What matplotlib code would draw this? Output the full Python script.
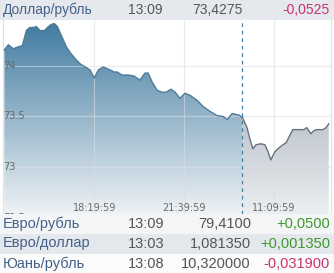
import numpy as np
import matplotlib.pyplot as plt
from matplotlib.colors import LinearSegmentedColormap
from matplotlib.patches import Rectangle
from matplotlib import transforms

# axis position in minutes, counted from 15:00 of day one (night gap cut out)
day1_t = [0, 9, 20, 31, 40, 49, 56, 64, 71, 80, 89, 98, 104, 111, 118, 124,
          131, 138, 147, 158, 169, 180, 191, 200, 209, 220, 236, 244, 251,
          262, 276, 289, 302, 313, 320, 329, 340, 351, 360, 371, 380, 391,
          402, 413, 429, 442, 458, 473, 487, 496, 507, 516, 524, 530]
day1_v = [74.16, 74.21, 74.17, 74.19, 74.20, 74.35, 74.38, 74.38, 74.39,
          74.35, 74.35, 74.39, 74.41, 74.42, 74.39, 74.33, 74.26, 74.19,
          74.13, 74.07, 74.02, 73.99, 73.96, 73.88, 73.96, 73.99, 73.96,
          73.94, 73.94, 73.91, 73.91, 73.90, 73.86, 73.93, 73.93, 73.84,
          73.76, 73.74, 73.74, 73.77, 73.74, 73.68, 73.73, 73.71, 73.66,
          73.60, 73.55, 73.51, 73.50, 73.47, 73.53, 73.52, 73.51, 73.49]
day2_t = [530, 540, 547, 553, 560, 571, 580, 587, 593, 602, 611, 620, 627,
          636, 642, 651, 658, 667, 673, 682, 689, 696, 702, 709, 716, 722]
day2_v = [73.49, 73.39, 73.27, 73.18, 73.22, 73.23, 73.22, 73.15, 73.07,
          73.15, 73.19, 73.22, 73.24, 73.32, 73.37, 73.37, 73.37, 73.37,
          73.39, 73.33, 73.36, 73.37, 73.37, 73.37, 73.39, 73.4275]
day_split = 530

x_ticks = [200, 400, 600]
x_labels = ["18:19:59", "21:39:59", "11:09:59"]
y_ticks = [74, 73.5, 73, 72.5]
y_labels = ["74", "73.5", "73", "72.5"]

header = ["Доллар/рубль", "13:09", "73,4275", "-0,0525"]
rows = [
    ["Евро/рубль", "13:09", "79,4100", "+0,0500"],
    ["Евро/доллар", "13:03", "1,081350", "+0,001350"],
    ["Юань/рубль", "13:08", "10,320000", "-0,031900"],
]

W, H = 334, 273
NAME_C = "#44618a"
TEXT_C = "#555555"
NEG_C = "#c8336e"
POS_C = "#3d9a2c"


def px(x):
    return x / W


def py(y):
    return 1 - y / H


def gradient_area(ax, t, v, c_top, c_bot, line_c, xlim, ylim):
    poly = ax.fill_between(t, v, ylim[0], color="none", lw=0)
    cmap = LinearSegmentedColormap.from_list("g", [c_bot, c_top])
    grad = np.linspace(0, 1, 256).reshape(-1, 1)
    im = ax.imshow(grad, extent=[xlim[0], xlim[1], ylim[0], ylim[1]],
                   origin="lower", aspect="auto", cmap=cmap, zorder=1)
    im.set_clip_path(poly.get_paths()[0], transform=ax.transData)
    ax.plot(t, v, color=line_c, lw=1.0, zorder=3)


fig = plt.figure(figsize=(W / 100, H / 100), dpi=100)
ax = fig.add_axes([px(3), py(214), px(328), 194 / H])
xlim = (-3, 727)
ylim = (72.535, 74.455)

gradient_area(ax, day1_t, day1_v, "#3f7aa0", "#eef2f5", "#4f7b97", xlim, ylim)
gradient_area(ax, day2_t, day2_v, "#8f9ca8", "#eceef1", "#66737e", xlim, ylim)
ax.set_xlim(*xlim)
ax.set_ylim(*ylim)

for yv in y_ticks:
    ax.axhline(yv, color="#d9dfe4", lw=0.8, alpha=0.6, zorder=2)
for xv in x_ticks:
    ax.axvline(xv, color="#d9dfe4", lw=0.8, alpha=0.6, zorder=2)
ax.axvline(day_split, color="#4a7fa5", lw=0.9, ls=(0, (3, 3)), zorder=4)

ax.set_xticks([])
ax.set_yticks([])
for s in ["top", "bottom"]:
    ax.spines[s].set_visible(False)
for s in ["left", "right"]:
    ax.spines[s].set_color("#e2e2e2")
    ax.spines[s].set_linewidth(0.8)

ytr = transforms.blended_transform_factory(ax.transAxes, ax.transData)
for yv, lab in zip(y_ticks, y_labels):
    ax.text(0.0, yv, lab, transform=ytr, ha="left", va="center",
            fontsize=7, color="#6a6a6a", family="DejaVu Sans", zorder=5,
            clip_on=True)
xtr = transforms.blended_transform_factory(ax.transData, ax.transAxes)
for xv, lab in zip(x_ticks, x_labels):
    ax.text(xv, 6 / 194, lab, transform=xtr, ha="center", va="center",
            fontsize=7, color="#6a6a6a", family="DejaVu Sans", zorder=5)

# header bar and the table underneath
fig.add_artist(Rectangle((0, py(20)), 1, 20 / H, transform=fig.transFigure,
                         facecolor="#e5e9ee", edgecolor="none", zorder=2))
row_bg = ["#f3f5f7", "#e4e8ec", "#fbfbfc"]
row_top = 214
row_h = 20
for i, bg in enumerate(row_bg):
    y0 = row_top + i * row_h
    fig.add_artist(Rectangle((0, py(y0 + row_h)), 1, row_h / H,
                             transform=fig.transFigure, facecolor=bg,
                             edgecolor="none", zorder=2))


def put_row(vals, yc, val_right, fs):
    name, tm, val, chg = vals
    fig.text(px(3), py(yc), name, ha="left", va="center", fontsize=fs,
             color=NAME_C, family="Liberation Sans", zorder=4)
    fig.text(px(128), py(yc), tm, ha="left", va="center", fontsize=fs,
             color=TEXT_C, family="Liberation Sans", zorder=4)
    fig.text(px(val_right), py(yc), val, ha="right", va="center", fontsize=fs,
             color=TEXT_C, family="Liberation Sans", zorder=4)
    fig.text(px(330), py(yc), chg, ha="right", va="center", fontsize=fs,
             color=NEG_C if chg.startswith("-") else POS_C,
             family="Liberation Sans", zorder=4)


put_row(header, 9.5, 243, 10)
for i, r in enumerate(rows):
    put_row(r, row_top + i * row_h + 9.5, 251, 10.5)

fig.savefig("out.png", dpi=100)
plt.close(fig)
